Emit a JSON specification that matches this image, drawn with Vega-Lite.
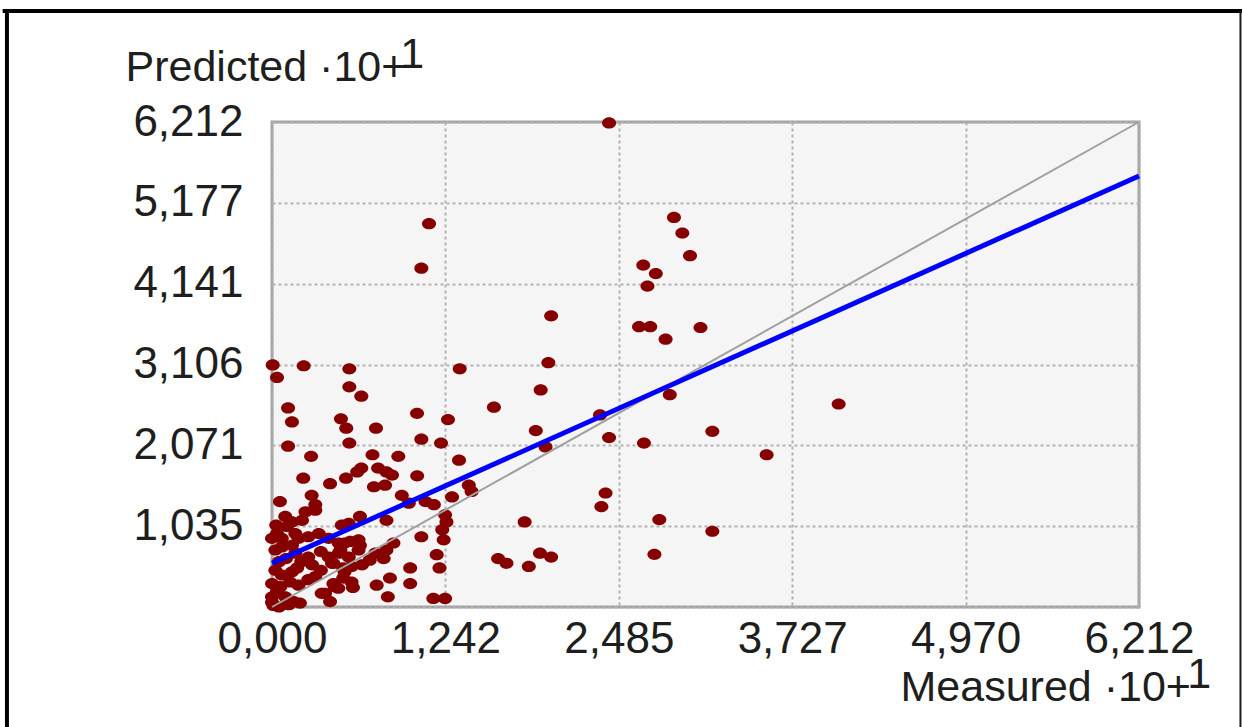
{
  "$schema": "https://vega.github.io/schema/vega-lite/v6.json",
  "width": 867,
  "height": 485,
  "autosize": "none",
  "padding": {"left": 272, "top": 122, "right": 103, "bottom": 120},
  "background": "white",
  "config": {
    "view": {"fill": "#f5f5f5", "stroke": "#a3a3a3", "strokeWidth": 3},
    "axis": {
      "domain": false,
      "ticks": false,
      "grid": true,
      "gridColor": "#b2b2b2",
      "gridDash": [3, 3],
      "gridWidth": 2,
      "labelFont": "Liberation Sans",
      "labelFontSize": 44,
      "labelColor": "#1e1e1e",
      "labelFlush": false,
      "labelOverlap": false,
      "labelBound": false,
      "titleFont": "Liberation Sans",
      "titleFontSize": 43,
      "titleFontWeight": "normal",
      "titleColor": "#1e1e1e",
      "titleLineHeight": 13
    }
  },
  "datasets": {
    "samples": [
      {"measured": 2.415, "predicted": 6.2}, {"measured": 1.125, "predicted": 4.91}, {"measured": 1.07, "predicted": 4.34},
      {"measured": 2.88, "predicted": 4.99}, {"measured": 2.94, "predicted": 4.79}, {"measured": 2.995, "predicted": 4.5},
      {"measured": 2.66, "predicted": 4.38}, {"measured": 2.75, "predicted": 4.27}, {"measured": 2.69, "predicted": 4.11},
      {"measured": 2.0, "predicted": 3.73}, {"measured": 2.63, "predicted": 3.59}, {"measured": 2.71, "predicted": 3.59},
      {"measured": 2.82, "predicted": 3.43}, {"measured": 3.07, "predicted": 3.58}, {"measured": 1.98, "predicted": 3.13},
      {"measured": 0.005, "predicted": 3.1}, {"measured": 0.036, "predicted": 2.94}, {"measured": 0.227, "predicted": 3.09},
      {"measured": 0.554, "predicted": 3.05}, {"measured": 1.345, "predicted": 3.05},
      {"measured": 0.554, "predicted": 2.82}, {"measured": 0.64, "predicted": 2.7}, {"measured": 1.925, "predicted": 2.78},
      {"measured": 0.115, "predicted": 2.55}, {"measured": 0.143, "predicted": 2.37}, {"measured": 0.494, "predicted": 2.41},
      {"measured": 0.532, "predicted": 2.29}, {"measured": 0.745, "predicted": 2.29}, {"measured": 1.039, "predicted": 2.48},
      {"measured": 1.261, "predicted": 2.4}, {"measured": 1.59, "predicted": 2.56}, {"measured": 1.89, "predicted": 2.26},
      {"measured": 0.115, "predicted": 2.06}, {"measured": 0.554, "predicted": 2.1}, {"measured": 1.07, "predicted": 2.15},
      {"measured": 1.211, "predicted": 2.1}, {"measured": 1.96, "predicted": 2.05},
      {"measured": 0.28, "predicted": 1.93}, {"measured": 0.72, "predicted": 1.95}, {"measured": 0.905, "predicted": 1.93},
      {"measured": 1.34, "predicted": 1.88},
      {"measured": 0.224, "predicted": 1.65}, {"measured": 0.416, "predicted": 1.58}, {"measured": 0.53, "predicted": 1.65},
      {"measured": 0.61, "predicted": 1.73}, {"measured": 0.64, "predicted": 1.78}, {"measured": 0.76, "predicted": 1.78},
      {"measured": 0.82, "predicted": 1.73}, {"measured": 0.86, "predicted": 1.69}, {"measured": 0.73, "predicted": 1.54},
      {"measured": 0.81, "predicted": 1.56}, {"measured": 1.04, "predicted": 1.68}, {"measured": 1.41, "predicted": 1.56},
      {"measured": 1.43, "predicted": 1.48},
      {"measured": 0.057, "predicted": 1.35}, {"measured": 0.284, "predicted": 1.43}, {"measured": 0.31, "predicted": 1.31},
      {"measured": 0.095, "predicted": 1.16}, {"measured": 0.143, "predicted": 1.09}, {"measured": 0.107, "predicted": 1.03},
      {"measured": 0.215, "predicted": 1.11}, {"measured": 0.24, "predicted": 1.22}, {"measured": 0.31, "predicted": 1.24},
      {"measured": 0.63, "predicted": 1.16}, {"measured": 0.5, "predicted": 1.05}, {"measured": 0.55, "predicted": 1.07},
      {"measured": 0.82, "predicted": 1.11}, {"measured": 0.93, "predicted": 1.43}, {"measured": 0.98, "predicted": 1.33},
      {"measured": 1.1, "predicted": 1.35}, {"measured": 1.16, "predicted": 1.31}, {"measured": 1.29, "predicted": 1.41},
      {"measured": 1.24, "predicted": 1.18}, {"measured": 1.25, "predicted": 1.09}, {"measured": 1.22, "predicted": 0.99},
      {"measured": 1.23, "predicted": 0.86}, {"measured": 1.07, "predicted": 0.9}, {"measured": 1.18, "predicted": 0.67},
      {"measured": 1.2, "predicted": 0.5},
      {"measured": 1.81, "predicted": 1.09}, {"measured": 1.62, "predicted": 0.62}, {"measured": 1.68, "predicted": 0.56},
      {"measured": 1.84, "predicted": 0.52}, {"measured": 1.92, "predicted": 0.69}, {"measured": 2.0, "predicted": 0.64},
      {"measured": 0.99, "predicted": 0.5}, {"measured": 0.99, "predicted": 0.3}, {"measured": 0.845, "predicted": 0.37},
      {"measured": 0.75, "predicted": 0.28}, {"measured": 0.83, "predicted": 0.13}, {"measured": 0.475, "predicted": 0.24},
      {"measured": 0.58, "predicted": 0.25}, {"measured": 0.356, "predicted": 0.175}, {"measured": 0.416, "predicted": 0.07},
      {"measured": 1.156, "predicted": 0.11}, {"measured": 1.24, "predicted": 0.11},
      {"measured": 0.7, "predicted": 0.6}, {"measured": 0.8, "predicted": 0.62}, {"measured": 0.74, "predicted": 0.69},
      {"measured": 0.82, "predicted": 0.73}, {"measured": 0.87, "predicted": 0.82}, {"measured": 0.63, "predicted": 0.79},
      {"measured": 0.52, "predicted": 0.82}, {"measured": 0.49, "predicted": 0.73}, {"measured": 0.44, "predicted": 0.56},
      {"measured": 0.52, "predicted": 0.45},
      {"measured": 0.036, "predicted": 0.94}, {"measured": 0.07, "predicted": 0.88}, {"measured": 0.167, "predicted": 0.94},
      {"measured": 0.19, "predicted": 0.88}, {"measured": 0.143, "predicted": 0.79}, {"measured": 0.26, "predicted": 0.9},
      {"measured": 0.335, "predicted": 0.94}, {"measured": 0.406, "predicted": 0.88}, {"measured": 0.478, "predicted": 0.82},
      {"measured": 0.56, "predicted": 0.84}, {"measured": 0.62, "predicted": 0.86}, {"measured": 0.024, "predicted": 0.73},
      {"measured": 0.07, "predicted": 0.77}, {"measured": 0.167, "predicted": 0.69}, {"measured": 0.26, "predicted": 0.64},
      {"measured": 0.35, "predicted": 0.71}, {"measured": 0.406, "predicted": 0.64}, {"measured": 0.478, "predicted": 0.69},
      {"measured": 0.55, "predicted": 0.64}, {"measured": 0.62, "predicted": 0.73}, {"measured": 0.024, "predicted": 0.47},
      {"measured": 0.07, "predicted": 0.41}, {"measured": 0.143, "predicted": 0.45}, {"measured": 0.287, "predicted": 0.54},
      {"measured": 0.35, "predicted": 0.47}, {"measured": 0.43, "predicted": 0.56}, {"measured": 0.51, "predicted": 0.5},
      {"measured": 0.57, "predicted": 0.52}, {"measured": 0.645, "predicted": 0.54}, {"measured": 0.0, "predicted": 0.3},
      {"measured": 0.06, "predicted": 0.26}, {"measured": 0.13, "predicted": 0.32}, {"measured": 0.19, "predicted": 0.28},
      {"measured": 0.26, "predicted": 0.35}, {"measured": 0.31, "predicted": 0.39}, {"measured": 0.44, "predicted": 0.3},
      {"measured": 0.51, "predicted": 0.37}, {"measured": 0.57, "predicted": 0.32}, {"measured": 0.0, "predicted": 0.13},
      {"measured": 0.036, "predicted": 0.2}, {"measured": 0.095, "predicted": 0.13}, {"measured": 0.155, "predicted": 0.07},
      {"measured": 0.2, "predicted": 0.05}, {"measured": 0.38, "predicted": 0.175}, {"measured": 0.45, "predicted": 0.26},
      {"measured": 0.01, "predicted": 0.02}, {"measured": 0.05, "predicted": 0.0}, {"measured": 0.12, "predicted": 0.03},
      {"measured": 0.0, "predicted": 0.06}, {"measured": 0.05, "predicted": 0.58}, {"measured": 0.1, "predicted": 0.62},
      {"measured": 0.21, "predicted": 0.58}, {"measured": 0.18, "predicted": 0.5}, {"measured": 0.03, "predicted": 1.05},
      {"measured": 0.0, "predicted": 0.88},
      {"measured": 2.85, "predicted": 2.72}, {"measured": 4.06, "predicted": 2.6}, {"measured": 2.35, "predicted": 2.46},
      {"measured": 3.155, "predicted": 2.25}, {"measured": 2.415, "predicted": 2.17}, {"measured": 2.665, "predicted": 2.1},
      {"measured": 3.544, "predicted": 1.95}, {"measured": 2.39, "predicted": 1.46}, {"measured": 2.36, "predicted": 1.285},
      {"measured": 2.775, "predicted": 1.12}, {"measured": 3.155, "predicted": 0.97}, {"measured": 2.74, "predicted": 0.675}
    ],
    "identity": [
      {"measured": 0, "predicted": 0},
      {"measured": 6.212, "predicted": 6.212}
    ],
    "fit": [
      {"measured": 0, "predicted": 0.56},
      {"measured": 6.212, "predicted": 5.52}
    ]
  },
  "layer": [
    {
      "data": {"name": "samples"},
      "mark": {
        "type": "point",
        "shape": "M -1 0 A 1 0.8 0 1 1 1 0 A 1 0.8 0 1 1 -1 0 Z",
        "filled": true,
        "color": "#870000",
        "opacity": 1,
        "size": 196
      },
      "encoding": {
        "x": {
          "field": "measured",
          "type": "quantitative",
          "scale": {"domain": [0, 6.212], "nice": false, "zero": false},
          "axis": {
            "title": ["\u200b\u00a0\u00a0\u00a0\u00a0\u00a0\u00a0\u00a0\u00a0\u00a0\u00a0\u00a0\u00a0\u00a0\u00a0\u00a0\u00a0\u00a0\u00a0\u00a0\u00a0\u00a0\u00a0\u00a0\u00a01", "Measured ·10+"],
            "values": [0, 1.242, 2.485, 3.727, 4.97, 6.212],
            "labelExpr": "replace(format(datum.value, '.3f'), '.', ',')",
            "labelPadding": 10,
            "titleX": 628,
            "titleY": 80,
            "titleAlign": "left",
            "titleBaseline": "alphabetic",
            "titleAnchor": "start"
          }
        },
        "y": {
          "field": "predicted",
          "type": "quantitative",
          "scale": {"domain": [0, 6.212], "nice": false, "zero": false},
          "axis": {
            "title": ["\u200b\u00a0\u00a0\u00a0\u00a0\u00a0\u00a0\u00a0\u00a0\u00a0\u00a0\u00a0\u00a0\u00a0\u00a0\u00a0\u00a0\u00a0\u00a0\u00a0\u00a0\u00a0\u00a0\u00a01", "Predicted ·10+"],
            "values": [0, 1.035, 2.071, 3.106, 4.141, 5.177, 6.212],
            "labelExpr": "datum.value == 0 ? '' : replace(format(datum.value, '.3f'), '.', ',')",
            "labelPadding": 29,
            "titleAngle": 0,
            "titleX": -147,
            "titleY": -55,
            "titleAlign": "left",
            "titleBaseline": "alphabetic",
            "titleAnchor": "start"
          }
        }
      }
    },
    {
      "data": {"name": "identity"},
      "mark": {"type": "line", "color": "#a0a0a0", "strokeWidth": 2},
      "encoding": {
        "x": {"field": "measured", "type": "quantitative"},
        "y": {"field": "predicted", "type": "quantitative"}
      }
    },
    {
      "data": {"name": "fit"},
      "mark": {"type": "line", "color": "#0000ff", "strokeWidth": 5},
      "encoding": {
        "x": {"field": "measured", "type": "quantitative"},
        "y": {"field": "predicted", "type": "quantitative"}
      }
    },
    {
      "data": {"values": [{}]},
      "mark": {"type": "rule", "color": "#000000", "strokeWidth": 4, "clip": false},
      "encoding": {
        "x": {"datum": -1.93},
        "x2": {"datum": 6.95},
        "y": {"datum": 7.634}
      }
    },
    {
      "data": {"values": [{}]},
      "mark": {"type": "rule", "color": "#000000", "strokeWidth": 4, "clip": false},
      "encoding": {
        "x": {"datum": -1.899},
        "y": {"datum": 7.66},
        "y2": {"datum": -1.7}
      }
    },
    {
      "data": {"values": [{}]},
      "mark": {"type": "rule", "color": "#1a1a1a", "strokeWidth": 2, "clip": false},
      "encoding": {
        "x": {"datum": 6.939},
        "y": {"datum": 7.634},
        "y2": {"datum": -1.7}
      }
    }
  ]
}
